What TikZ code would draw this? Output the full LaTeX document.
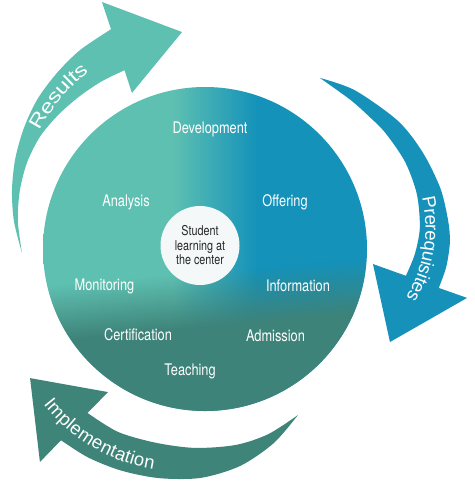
\documentclass[tikz,border=0pt]{standalone}
\usepackage{fontspec}
\usetikzlibrary{fadings,decorations.text}
\newfontfamily\labfont[FakeStretch=0.8]{TeX Gyre Heros}
\newfontfamily\arrfont{Liberation Sans}
\newfontfamily\resfont[FakeStretch=1.25]{Liberation Sans}
\definecolor{cteal}{RGB}{94,192,177}
\definecolor{cblue}{RGB}{20,146,186}
\definecolor{cdark}{RGB}{62,131,121}
\definecolor{ateal}{RGB}{94,192,177}
\definecolor{ablue}{RGB}{21,145,186}
\definecolor{adark}{RGB}{62,132,121}
\definecolor{cwhite}{RGB}{245,248,248}
\pgfdeclarehorizontalshading{circshade}{100bp}{color(0bp)=(cteal); color(45bp)=(cteal); color(58bp)=(cblue); color(100bp)=(cblue)}
\pgfdeclareverticalshading{darkfadeshade}{100bp}{color(0bp)=(white); color(38bp)=(white); color(46.5bp)=(black); color(100bp)=(black)}
\pgfdeclarefading{darkfade}{\pgfuseshading{darkfadeshade}}
\begin{document}
\begin{tikzpicture}[x=1pt,y=-1pt,
  lab/.style={text=white, font=\labfont\fontsize{16}{18}\selectfont, inner sep=0pt, anchor=base},
  arrowlabel/.style={decorate, decoration={text along path, text align=center, raise=-6pt, text={#1}}}]
\fill[white] (0,0) rectangle (474,482);
\useasboundingbox (0,0) rectangle (474,482);
% main disk
\shade[shading=circshade] (205,249) circle (162);
\fill[cdark, path fading=darkfade, fading transform={rotate=5}] (205,249) circle (162);
% Results arrow
\begin{scope}[shift={(189,206)}]
\fill[ateal] plot[smooth] coordinates {(164.3:173.5) (175:175.7) (185:177.7) (195:180) (205:182.5) (215:185.4) (225:187.4) (235:190.2) (246.2:193.2)}
  -- (246.9:221.8) -- (267.7:174.1) -- (243.2:126.6)
  -- plot[smooth] coordinates {(244.6:150.3) (235:152.2) (225:155) (215:159.3) (205:164.3) (195:167.7) (185:169.9) (175:171.8) (164.3:173.5)} -- cycle;
\path[arrowlabel={|\resfont\fontsize{19}{19}\selectfont\color{white}|Results}] (195:173) arc[start angle=195, end angle=245, radius=173];
\end{scope}
% Prerequisites arrow
\begin{scope}[shift={(290.5,228)}]
\fill[ablue] plot[smooth] coordinates {(-78.9:152.9) (-65:152) (-45:151.7) (-30:152.3) (-15:155) (-3:157.7) (5:160) (14:160.5) (22:159.9)}
  -- (21.6:189.9) -- (48.9:151.3) -- (23.6:90)
  -- plot[smooth] coordinates {(22.5:124.9) (12:127) (0:129.3) (-15:130.8) (-30:132.3) (-45:134.3) (-55:136.5) (-65:141.5) (-78.9:152.9)} -- cycle;
\path[arrowlabel={|\arrfont\fontsize{18.5}{18.5}\selectfont\color{white}|Prerequisites}] (-21:141) arc[start angle=-21, end angle=39, radius=141];
\end{scope}
% Implementation arrow
\begin{scope}[shift={(181.6,295.5)}]
\fill[adark] plot[smooth] coordinates {(45.8:166.8) (58:174) (71:180.2) (84:183.4) (97:184) (109:185.2) (120:187) (129.8:188.4)}
  -- (130.4:218.6) -- (151.4:172.6) -- (127.3:121.4)
  -- plot[smooth] coordinates {(128.7:150.5) (115:150.5) (100:149.5) (85:153) (70:159) (58:163.5) (45.8:166.8)} -- cycle;
\path[arrowlabel={|\arrfont\fontsize{18.5}{18.5}\selectfont\color{white}|Implementation}] (152:170) arc[start angle=152, end angle=89, radius=170];
\end{scope}
% center
\node[circle, fill=cwhite, minimum size=79pt, inner sep=0pt, align=center, text=black!85,
  font=\labfont\fontsize{13.5}{14.5}\selectfont] (center) at (200,245.5) {Student\\learning at\\the center};
% labels
\node[lab] (dev) at (210,133) {Development};
\node[lab] (ana) at (126,206) {Analysis};
\node[lab] (off) at (285,206) {Offering};
\node[lab] (mon) at (104.5,290.5) {Monitoring};
\node[lab] (inf) at (298,291) {Information};
\node[lab] (cer) at (138,340) {Certification};
\node[lab] (adm) at (275.5,341) {Admission};
\node[lab] (tea) at (190,375) {Teaching};
\end{tikzpicture}
\end{document}
